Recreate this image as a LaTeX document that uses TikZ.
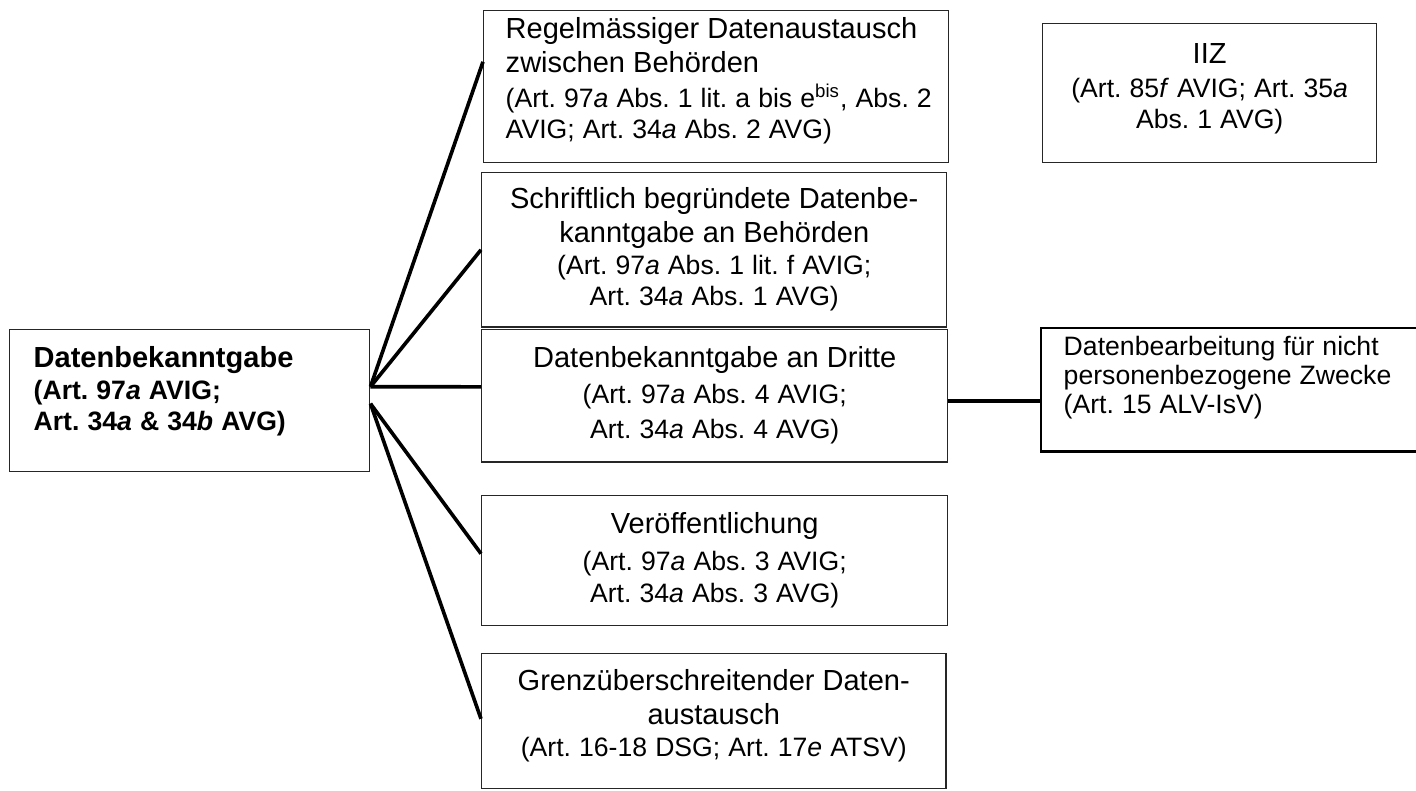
\documentclass[tikz,border=0pt]{standalone}
\usepackage{fontspec}
\setmainfont{Liberation Sans}
\tikzset{box/.style = {draw=black!85, line width=0.6pt, anchor=north west, inner ysep=0pt, inner xsep=4pt, align=center}}
\tikzset{fan/.style = {line width=1.5pt}}
\newcommand{\boxhead}[1]{{\fontsize{12}{14}\selectfont #1\par}}
\newcommand{\boxref}[2][0pt]{{\fontsize{11}{13}\selectfont\vspace*{#1}#2\par}}

\begin{document}
\frenchspacing
\begin{tikzpicture}[x=0.4133pt, y=-0.4133pt]
        \useasboundingbox (0,0) rectangle (1416,790);
        \node [box, align=left, inner xsep=9.9pt, text width=129pt, text height=15.7pt, text depth=43pt] (main) at (9,329)
            {\boxhead{\bfseries Datenbekanntgabe}\boxref{\bfseries (Art. 97\textit{a} AVIG;\\ Art. 34\textit{a} \& 34\textit{b} AVG)}};
        \node [box, align=left, inner xsep=9.1pt, text width=174pt, text height=11.6pt, text depth=51.2pt] (r1) at (483,10)
            {\boxhead{Regelmässiger Datenaustausch\\ zwischen Behörden}\boxref[1.2pt]{\mbox{(Art. 97\textit{a} Abs. 1 lit. a bis e\textsuperscript{bis}, Abs. 2}\\ AVIG; Art. 34\textit{a} Abs. 2 AVG)}};
        \node [box, text width=184.2pt, text height=14.9pt, text depth=48.8pt] (r2) at (481,172)
            {\boxhead{Schriftlich begründete Datenbe-\\ kanntgabe an Behörden}\boxref{(Art. 97\textit{a} Abs. 1 lit. f AVIG;\\ Art. 34\textit{a} Abs. 1 AVG)}};
        \node [box, text width=184.6pt, text height=15.7pt, text depth=38.9pt] (r3) at (481,329)
            {\boxhead{Datenbekanntgabe an Dritte}\boxref[1.8pt]{(Art. 97\textit{a} Abs. 4 AVIG;\\[1.4pt] Art. 34\textit{a} Abs. 4 AVG)}};
        \node [box, text width=184.6pt, text height=15.7pt, text depth=38pt] (r4) at (481,495)
            {\boxhead{Veröffentlichung}\boxref[2.3pt]{(Art. 97\textit{a} Abs. 3 AVIG;\\ Art. 34\textit{a} Abs. 3 AVG)}};
        \node [box, text width=183.8pt, text height=15.3pt, text depth=40.5pt] (r5) at (481,653)
            {\boxhead{Grenzüberschreitender Daten-\\ austausch}\boxref{(Art. 16-18 DSG; Art. 17\textit{e} ATSV)}};
        \node [box, text width=130pt, text height=16.5pt, text depth=40.9pt] (iiz) at (1042,23)
            {\boxhead{IIZ}\boxref[1pt]{(Art. 85\textit{f} AVIG; Art. 35\textit{a}\\ Abs. 1 AVG)}};
        % box runs off the right edge of the page
        \node [box, draw=none, align=left, inner xsep=9.1pt, text width=150pt, text height=11.2pt, text depth=39.3pt] (db) at (1041,328)
            {\fontsize{11}{12}\selectfont Datenbearbeitung für nicht\\ personenbezogene Zwecke\\ (Art. 15 ALV-IsV)\par};
        \draw [line width=1.1pt] (db.north east) -- (db.north west) -- (db.south west) -- (db.south east);
        \coordinate (hub) at ([yshift=5.8pt]main.east);
        \coordinate (hublow) at ([yshift=-1.2pt]main.east);
        \coordinate (dbin) at ([yshift=-4.5pt]db.west);
        \draw [fan] (hub) -- ([yshift=10.3pt]r1.west);
        \draw [fan] (hub) -- (r2.west);
        \draw [fan] (hub) -- ([yshift=3.7pt]r3.west);
        \draw [fan] (hublow) -- ([yshift=2.9pt]r4.west);
        \draw [fan] (hublow) -- ([yshift=1pt]r5.west);
        \draw [fan] (dbin -| r3.east) -- (dbin);
    \end{tikzpicture}
\end{document}
